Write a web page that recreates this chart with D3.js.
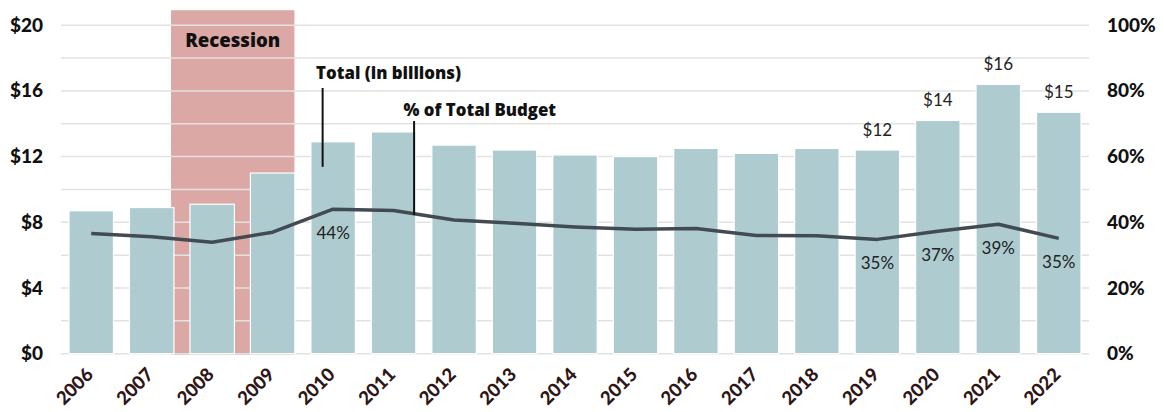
<!DOCTYPE html>
<html>
<head>
<meta charset="utf-8">
<script src="https://cdn.jsdelivr.net/npm/d3@7"></script>
<style>
  body { margin: 0; background: #fff; }
  svg { display: block; }
</style>
</head>
<body>
<svg id="chart" width="1164" height="412"></svg>
<script>
// Fiscal years shown on the x axis
const years = [2006, 2007, 2008, 2009, 2010, 2011, 2012, 2013, 2014, 2015, 2016, 2017, 2018, 2019, 2020, 2021, 2022];
// Total spending, billions of dollars (bars, left axis)
const totals = [8.7, 8.9, 9.1, 11.0, 12.9, 13.5, 12.7, 12.4, 12.1, 12.0, 12.5, 12.2, 12.5, 12.4, 14.2, 16.4, 14.7];
// Share of the total budget, percent (line, right axis)
const shares = [36.6, 35.6, 33.9, 37.0, 44.0, 43.6, 40.7, 39.7, 38.6, 37.9, 38.1, 36.0, 35.9, 34.8, 37.3, 39.4, 35.1];
// Axis ticks
const dollarTicks = [0, 4, 8, 12, 16, 20];
const gridValues = [0, 2, 4, 6, 8, 10, 12, 14, 16, 18, 20];
const percentTicks = [0, 20, 40, 60, 80, 100];
// Years that carry value labels
const totalLabelYears = [2019, 2020, 2021, 2022];
const shareLabelYears = [2010, 2019, 2020, 2021, 2022];
// Recession span, in fractional fiscal years
const recessionSpan = [2007.32, 2009.36];

const svg = d3.select("#chart");
const plotLeft = 61, plotRight = 1089, plotTop = 25.2, plotBottom = 353.7;

const x = d3.scaleBand().domain(years).range([plotLeft, plotRight])
  .paddingInner(0.265).paddingOuter(0.1325);
const yL = d3.scaleLinear().domain([0, 20]).range([plotBottom, plotTop]);
const yR = d3.scaleLinear().domain([0, 100]).range([plotBottom, plotTop]);
const cx = yr => x(yr) + x.bandwidth() / 2;
const fx = v => { const f = Math.floor(v); return cx(f) + (v - f) * x.step(); };

const sans = "Lato, 'Open Sans', 'DejaVu Sans', sans-serif";
const heavy = "'Open Sans', Lato, 'DejaVu Sans', sans-serif";

// Recession band
const recTop = yL(20) - 15;
svg.append("rect")
  .attr("x", fx(recessionSpan[0]))
  .attr("width", fx(recessionSpan[1]) - fx(recessionSpan[0]))
  .attr("y", recTop)
  .attr("height", plotBottom + 1 - recTop)
  .attr("fill", "#dca8a5");

svg.append("text")
  .attr("x", (fx(recessionSpan[0]) + fx(recessionSpan[1])) / 2)
  .attr("y", yL(20) + 22)
  .attr("text-anchor", "middle")
  .attr("font-family", heavy).attr("font-weight", 800).attr("font-size", 18.6)
  .attr("fill", "#111")
  .text("Recession");

// Gridlines every $2
svg.append("g").selectAll("line").data(gridValues).join("line")
  .attr("x1", plotLeft).attr("x2", plotRight)
  .attr("y1", d => yL(d)).attr("y2", d => yL(d))
  .attr("stroke", "#e2e2e2").attr("stroke-width", 1.5);

// Bars
svg.append("g").selectAll("rect").data(years).join("rect")
  .attr("x", d => x(d))
  .attr("width", x.bandwidth())
  .attr("y", (d, i) => yL(totals[i]))
  .attr("height", (d, i) => plotBottom - yL(totals[i]))
  .attr("fill", "#aecbcf")
  .attr("stroke", "#fff").attr("stroke-width", 1.2);

// Share line
const line = d3.line().x(d => cx(d.year)).y(d => yR(d.share));
const lineData = years.map((year, i) => ({ year, share: shares[i] }));
svg.append("path").datum(lineData)
  .attr("d", line)
  .attr("fill", "none")
  .attr("stroke", "#434b52").attr("stroke-width", 3.5)
  .attr("stroke-linejoin", "round");

// Value labels
svg.append("g").selectAll("text").data(totalLabelYears).join("text")
  .attr("x", d => cx(d))
  .attr("y", d => yL(totals[years.indexOf(d)]) - 14)
  .attr("text-anchor", "middle")
  .attr("font-family", sans).attr("font-size", 17).attr("fill", "#222")
  .text(d => "$" + Math.round(totals[years.indexOf(d)]));

svg.append("g").selectAll("text").data(shareLabelYears).join("text")
  .attr("x", d => cx(d))
  .attr("y", d => yR(shares[years.indexOf(d)]) + 30)
  .attr("text-anchor", "middle")
  .attr("font-family", sans).attr("font-size", 17).attr("fill", "#222")
  .text(d => Math.round(shares[years.indexOf(d)]) + "%");

// Left axis
const gL = svg.append("g").attr("transform", `translate(${plotLeft},0)`)
  .call(d3.axisLeft(yL).tickValues(dollarTicks).tickFormat(d => "$" + d).tickSize(0).tickPadding(18));
gL.select(".domain").remove();
gL.selectAll("text").attr("font-family", sans).attr("font-weight", 900)
  .attr("font-size", 19).attr("fill", "#111");

// Right axis
const gR = svg.append("g").attr("transform", `translate(${plotRight},0)`)
  .call(d3.axisRight(yR).tickValues(percentTicks).tickFormat(d => d + "%").tickSize(0).tickPadding(18));
gR.select(".domain").remove();
gR.selectAll("text").attr("font-family", sans).attr("font-weight", 900)
  .attr("font-size", 19).attr("fill", "#111");

// Bottom axis with slanted year labels
const gX = svg.append("g").attr("transform", `translate(0,${plotBottom})`)
  .call(d3.axisBottom(x).tickSize(0));
gX.select(".domain").remove();
gX.selectAll("text")
  .attr("x", 0).attr("y", 0).attr("dy", 0)
  .attr("transform", "translate(3,22) rotate(-45)")
  .attr("text-anchor", "end")
  .attr("font-family", sans).attr("font-weight", 900)
  .attr("font-size", 18.5).attr("fill", "#2e1616");

// Series annotations with leader lines
const notes = svg.append("g").attr("font-family", heavy).attr("font-weight", 800)
  .attr("font-size", 16.8).attr("fill", "#111");
notes.append("text").attr("x", cx(2010) - 17).attr("y", 79).text("Total (in billions)");
notes.append("line")
  .attr("x1", cx(2010) - 10.5).attr("x2", cx(2010) - 10.5)
  .attr("y1", 88).attr("y2", yL(totals[4]) + 25)
  .attr("stroke", "#111").attr("stroke-width", 2);
notes.append("text").attr("x", cx(2011) + 10).attr("y", 116).text("% of Total Budget");
notes.append("line")
  .attr("x1", cx(2011) + 20.5).attr("x2", cx(2011) + 20.5)
  .attr("y1", 121).attr("y2", 215)
  .attr("stroke", "#111").attr("stroke-width", 2);
</script>
</body>
</html>
